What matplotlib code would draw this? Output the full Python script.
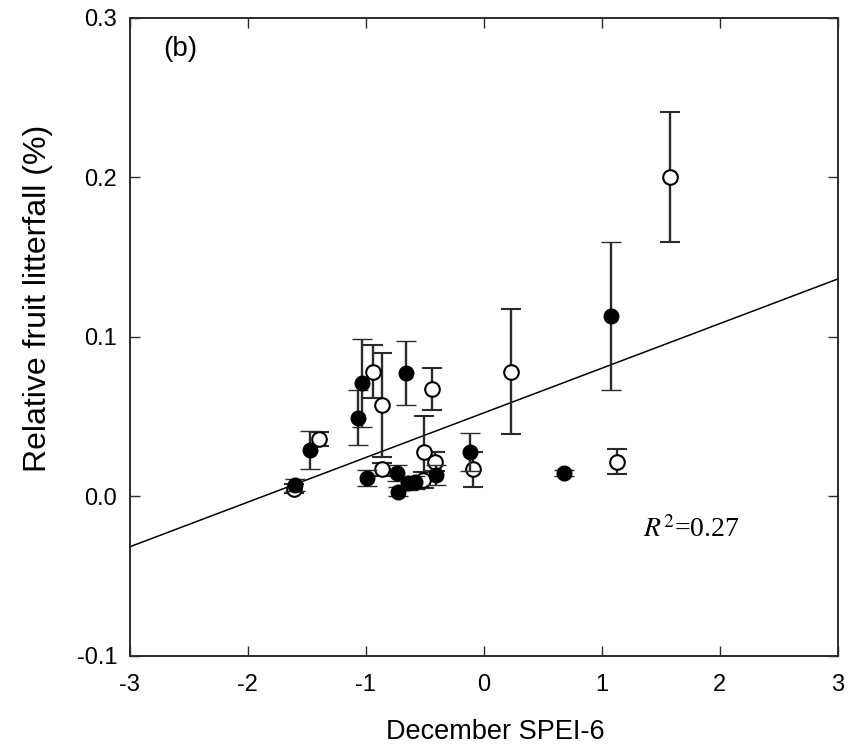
import numpy as np
import matplotlib.pyplot as plt

# filled symbols
x_filled = [-1.599, -1.473, -1.034, -1.063, -0.661, -0.992, -0.738, -0.724,
            -0.639, -0.580, -0.405, -0.117, 0.682, 1.074]
y_filled = [0.0072, 0.0290, 0.0710, 0.0494, 0.0772, 0.0115, 0.0146, 0.0030,
            0.0083, 0.0090, 0.0135, 0.0277, 0.0149, 0.1132]
e_filled = [0.004, 0.0118, 0.0277, 0.0171, 0.020, 0.005, 0.005, 0.003,
            0.004, 0.004, 0.006, 0.012, 0.002, 0.0464]

# open symbols
x_open = [-1.610, -1.393, -0.936, -0.859, -0.865, -0.441, -0.504, -0.413,
          -0.512, -0.089, 0.230, 1.125, 1.577]
y_open = [0.0050, 0.0360, 0.0783, 0.0575, 0.0170, 0.0674, 0.0281, 0.0218,
          0.0103, 0.0171, 0.0783, 0.0218, 0.2003]
e_open = [0.003, 0.0044, 0.0165, 0.0327, 0.004, 0.0133, 0.0225, 0.006,
          0.005, 0.0109, 0.0393, 0.008, 0.041]

# regression line
fit_slope = 0.0280
fit_intercept = 0.0524

xticks = [-3, -2, -1, 0, 1, 2, 3]
yticks = [-0.1, 0.0, 0.1, 0.2, 0.3]
ytick_labels = ['-0.1', '0.0', '0.1', '0.2', '0.3']

plt.rcParams['font.family'] = ['Liberation Sans', 'DejaVu Sans']
plt.rcParams['axes.unicode_minus'] = False
plt.rcParams['mathtext.fontset'] = 'stix'
dark = '#2b2b2b'

fig = plt.figure(figsize=(8.55, 7.56), dpi=100)
ax = fig.add_axes([0.1515, 0.1323, 0.8285, 0.8439])

xl = np.array([-3, 3])
ax.plot(xl, fit_intercept + fit_slope * xl, color='black', lw=1.1, zorder=2)

ax.errorbar(x_open, y_open, yerr=e_open, fmt='o', ms=10.5, mfc='white',
            mec='black', mew=1.5, ecolor=dark, elinewidth=1.7, capsize=7,
            capthick=1.7, zorder=3)
ax.errorbar(x_filled, y_filled, yerr=e_filled, fmt='o', ms=10.5, mfc='black',
            mec='black', mew=1.0, ecolor=dark, elinewidth=1.7, capsize=7,
            capthick=1.7, zorder=4)

ax.set_xlim(-3, 3)
ax.set_ylim(-0.1, 0.3)
ax.set_xticks(xticks)
ax.set_yticks(yticks)
ax.set_yticklabels(ytick_labels)
ax.tick_params(direction='in', length=7, width=1.0, color=dark,
               labelsize=17, top=True, right=True)
ax.tick_params(axis='x', pad=13)
ax.tick_params(axis='y', pad=9)
for s in ax.spines.values():
    s.set_linewidth(1.4)
    s.set_color(dark)

ax.set_xlabel('December SPEI-6', fontsize=19.5)
ax.xaxis.set_label_coords(0.516, -0.098)
ax.set_ylabel('Relative fruit litterfall (%)', fontsize=23)
ax.yaxis.set_label_coords(-0.108, 0.561)

ax.text(0.047, 0.972, '(b)', transform=ax.transAxes, fontsize=20,
        va='top', ha='left')
ax.text(1.35, -0.021, r'$\mathit{R}^2$=0.27', fontsize=20,
        family='Liberation Serif', ha='left', va='center')

fig.savefig('out.png', dpi=100)
